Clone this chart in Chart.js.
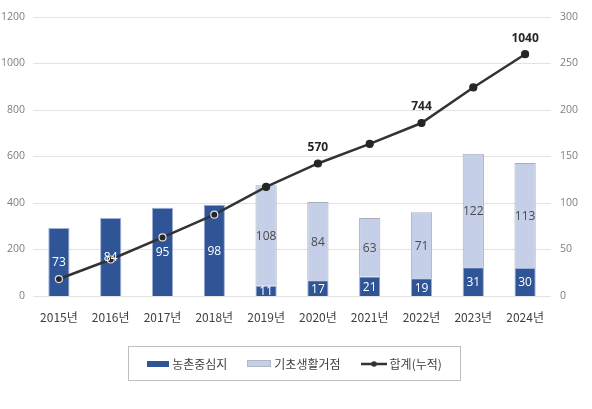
<!DOCTYPE html>
<html><head><meta charset="utf-8">
<script src="https://cdn.jsdelivr.net/npm/chart.js@4"></script>
<style>
html,body{margin:0;padding:0;background:#fff;}
#wrap{position:relative;width:592px;height:409px;}
#legend{position:absolute;left:128px;top:346px;width:333px;height:35px;border:1px solid #BFBFBF;box-sizing:border-box;display:flex;align-items:center;justify-content:center;gap:20px;font-family:"Noto Sans CJK KR",sans-serif;font-size:12px;color:#404040;}
.li{display:flex;align-items:center;gap:3px;}
.sw{display:inline-block;width:22px;height:6px;}
</style></head>
<body><div id="wrap"><canvas id="c" width="592" height="409"></canvas>
<div id="legend">
<span class="li"><span class="sw" style="background:#2F5597"></span>농촌중심지</span>
<span class="li"><span class="sw" style="background:#C5D0E8;border:1px solid #B0B8C8;height:5px"></span>기초생활거점</span>
<span class="li"><svg width="26" height="8"><line x1="0" y1="4" x2="26" y2="4" stroke="#333" stroke-width="2.5"/><circle cx="13" cy="4" r="2.8" fill="#333"/></svg>합계(누적)</span>
</div></div>
<script>
const categories = ['2015년','2016년','2017년','2018년','2019년','2020년','2021년','2022년','2023년','2024년'];
const ruralCenter = [73,84,95,98,11,17,21,19,31,30];
const basicBase = [null,null,null,null,108,84,63,71,122,113];
const cumulative = [73,157,252,350,469,570,654,744,897,1040];
const shownTotals = [570,744,1040];
const leftTicks = [0,200,400,600,800,1000,1200];
const rightTicks = [0,50,100,150,200,250,300];

const numFont = '"Open Sans","Noto Sans",sans-serif';

const labelPlugin = {
  id:'labels',
  afterDatasetsDraw(chart){
    const ctx = chart.ctx;
    ctx.save();
    ctx.textAlign='center';ctx.textBaseline='middle';
    [0,1].forEach(di=>{
      const meta = chart.getDatasetMeta(di);
      const data = chart.data.datasets[di].data;
      meta.data.forEach((el,i)=>{
        const v = data[i];
        if(!v) return;
        const y = (el.y + el.base)/2;
        ctx.font = '12px '+numFont;
        ctx.fillStyle = di===0 ? '#FFFFFF' : '#4A4A4A';
        ctx.fillText(String(v), el.x, y+1);
      });
    });
    const lm = chart.getDatasetMeta(2);
    lm.data.forEach((el,i)=>{
      const v = cumulative[i];
      if(shownTotals.indexOf(v)<0) return;
      ctx.font = 'bold 12px '+numFont;
      ctx.fillStyle = '#262626';
      ctx.fillText(String(v), el.x, el.y-16);
    });
    ctx.restore();
  }
};

new Chart(document.getElementById('c'),{
  data:{
    labels:categories,
    datasets:[
      {type:'bar',label:'농촌중심지',data:ruralCenter,backgroundColor:'#2F5597',borderColor:'#9FB0D3',borderWidth:1,yAxisID:'y1',stack:'s',order:2,barPercentage:0.41,categoryPercentage:1},
      {type:'bar',label:'기초생활거점',data:basicBase,backgroundColor:'#C5D0E8',borderColor:'#A8AEB8',borderWidth:1,yAxisID:'y1',stack:'s',order:2,barPercentage:0.41,categoryPercentage:1},
      {type:'line',label:'합계(누적)',data:cumulative,borderColor:'#333333',borderWidth:2.5,yAxisID:'y',order:0,tension:0,
       pointRadius:3.5,pointBackgroundColor:'#262626',
       pointBorderColor:['#E0E0E0','#E0E0E0','#E0E0E0','#E0E0E0','#262626','#262626','#262626','#262626','#262626','#262626'],
       pointBorderWidth:1.2}
    ]
  },
  options:{
    responsive:false,animation:false,
    layout:{padding:{top:17,bottom:83,left:0,right:0}},
    plugins:{legend:{display:false},tooltip:{enabled:false}},
    scales:{
      x:{stacked:true,grid:{display:false},border:{display:false},
         ticks:{color:'#404040',font:{size:12,family:'"Noto Sans CJK KR",sans-serif'},padding:6},
         afterFit(s){s.height=30;}},
      y:{position:'left',min:0,max:1200,
         afterBuildTicks(s){s.ticks=leftTicks.map(v=>({value:v}));},
         grid:{color:'#E3E3E3',drawTicks:false},border:{display:false},
         ticks:{color:'#7F7F7F',font:{size:10.5,family:numFont},padding:8,callback:v=>String(v)},
         afterFit(s){s.width=33;}},
      y1:{position:'right',stacked:true,min:0,max:300,
         afterBuildTicks(s){s.ticks=rightTicks.map(v=>({value:v}));},
         grid:{display:false,drawTicks:false},border:{display:false},
         ticks:{color:'#7F7F7F',font:{size:10.5,family:numFont},padding:9,callback:v=>String(v)},
         afterFit(s){s.width=41;}}
    }
  },
  plugins:[labelPlugin]
});
</script></body></html>
